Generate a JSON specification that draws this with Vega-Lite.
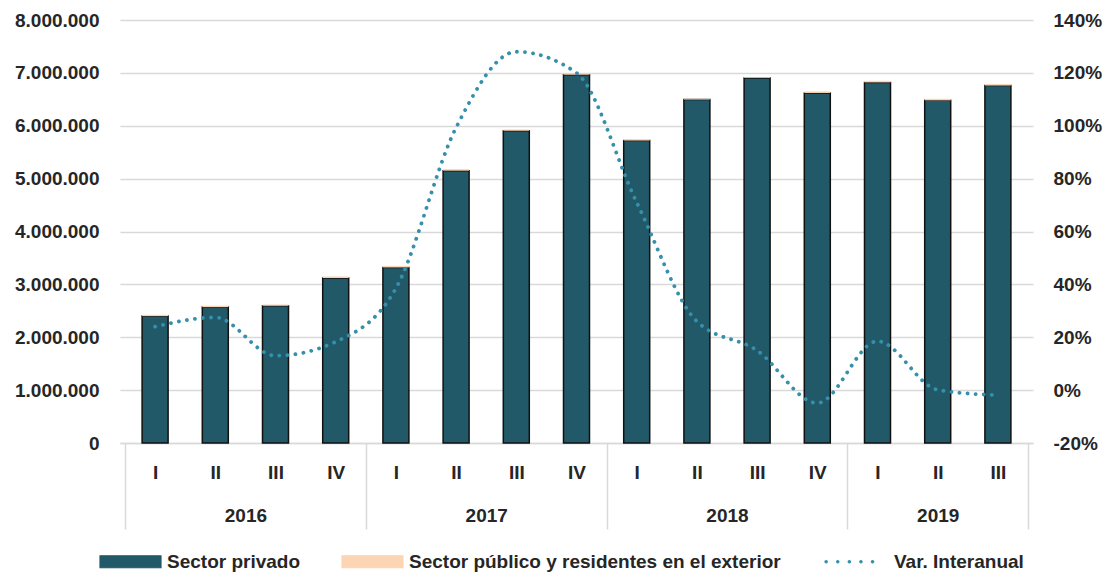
{
  "$schema": "https://vega.github.io/schema/vega-lite/v6.json",
  "width": 913,
  "height": 423,
  "autosize": {"type": "none"},
  "padding": {"left": 120, "top": 20, "right": 80, "bottom": 129},
  "background": "white",
  "config": {
    "locale": {"number": {"decimal": ",", "thousands": ".", "grouping": [3], "currency": ["", ""], "minus": "-"}},
    "view": {"stroke": null},
    "font": "Liberation Sans",
    "axis": {"labelFont": "Liberation Sans", "labelFontWeight": "bold", "labelFontSize": 19, "labelColor": "#262626", "title": null, "labelFlush": false, "labelOverlap": false},
    "legend": {"symbolSize": 3721}
  },
  "datasets": {
    "q": [
      {"idx": 0, "year": "2016", "quarter": "I", "Sector privado": 2400000, "Sector público y residentes en el exterior": 25000, "var": 24},
      {"idx": 1, "year": "2016", "quarter": "II", "Sector privado": 2570000, "Sector público y residentes en el exterior": 27000, "var": 27.5},
      {"idx": 2, "year": "2016", "quarter": "III", "Sector privado": 2595000, "Sector público y residentes en el exterior": 25000, "var": 13},
      {"idx": 3, "year": "2016", "quarter": "IV", "Sector privado": 3120000, "Sector público y residentes en el exterior": 30000, "var": 18.3},
      {"idx": 4, "year": "2017", "quarter": "I", "Sector privado": 3320000, "Sector público y residentes en el exterior": 30000, "var": 38.5},
      {"idx": 5, "year": "2017", "quarter": "II", "Sector privado": 5150000, "Sector público y residentes en el exterior": 30000, "var": 99.3},
      {"idx": 6, "year": "2017", "quarter": "III", "Sector privado": 5905000, "Sector público y residentes en el exterior": 25000, "var": 128},
      {"idx": 7, "year": "2017", "quarter": "IV", "Sector privado": 6965000, "Sector público y residentes en el exterior": 15000, "var": 120},
      {"idx": 8, "year": "2018", "quarter": "I", "Sector privado": 5720000, "Sector público y residentes en el exterior": 30000, "var": 71},
      {"idx": 9, "year": "2018", "quarter": "II", "Sector privado": 6495000, "Sector público y residentes en el exterior": 15000, "var": 26},
      {"idx": 10, "year": "2018", "quarter": "III", "Sector privado": 6905000, "Sector público y residentes en el exterior": 15000, "var": 15},
      {"idx": 11, "year": "2018", "quarter": "IV", "Sector privado": 6620000, "Sector público y residentes en el exterior": 30000, "var": -4.9},
      {"idx": 12, "year": "2019", "quarter": "I", "Sector privado": 6820000, "Sector público y residentes en el exterior": 30000, "var": 18.5},
      {"idx": 13, "year": "2019", "quarter": "II", "Sector privado": 6480000, "Sector público y residentes en el exterior": 30000, "var": 0.1},
      {"idx": 14, "year": "2019", "quarter": "III", "Sector privado": 6760000, "Sector público y residentes en el exterior": 30000, "var": -1.9}
    ]
  },
  "data": {"name": "q"},
  "layer": [
    {
      "transform": [{"fold": ["Sector privado", "Sector público y residentes en el exterior"], "as": ["series", "value"]}],
      "mark": {"type": "bar", "size": 26, "strokeWidth": 1.5},
      "encoding": {
        "x": {
          "field": "idx", "type": "quantitative",
          "scale": {"domain": [-0.5, 14.5], "nice": false, "zero": false},
          "axis": {"orient": "bottom", "values": [0,1,2,3,4,5,6,7,8,9,10,11,12,13,14], "labelExpr": "['I','II','III','IV'][datum.value % 4]", "ticks": false, "domain": true, "domainColor": "#d9d9d9", "domainWidth": 1.5, "grid": false, "labelPadding": 20}
        },
        "y": {
          "field": "value", "type": "quantitative", "stack": "zero",
          "scale": {"domain": [0, 8000000], "nice": false},
          "axis": {"orient": "left", "values": [0,1000000,2000000,3000000,4000000,5000000,6000000,7000000,8000000], "format": ",.0f", "grid": true, "gridColor": "#d9d9d9", "gridWidth": 1.5, "domain": false, "ticks": false, "labelPadding": 21}
        },
        "order": {"field": "series", "type": "nominal"},
        "color": {
          "field": "series", "type": "nominal",
          "scale": {"domain": ["Sector privado", "Sector público y residentes en el exterior", "Var. Interanual"], "range": ["#225968", "#FCD5B4", "#3590AA"]},
          "legend": {
            "title": null, "orient": "none", "legendX": -21, "legendY": 510, "direction": "horizontal",
            "symbolSize": 3721, "labelFontSize": 19, "labelFontWeight": "bold", "labelFont": "Liberation Sans", "labelColor": "#262626",
            "labelOffset": 5, "columnPadding": 38, "labelLimit": 500,
            "encode": {
              "symbols": {
                "update": {
                  "size": {"value": 3721},
                  "shape": {"signal": "datum.value === 'Var. Interanual' ? 'M-1.03,0H0.87' : 'M-1,-0.197H1V0.197H-1Z'"},
                  "fill": {"signal": "datum.value === 'Sector privado' ? '#225968' : datum.value === 'Var. Interanual' ? 'transparent' : '#FCD5B4'"},
                  "stroke": {"signal": "datum.value === 'Sector privado' ? '#111111' : datum.value === 'Var. Interanual' ? '#3590AA' : 'transparent'"},
                  "strokeWidth": {"signal": "(datum.value === 'Var. Interanual' ? 3.5 : 1.2)"},
                  "strokeDash": {"signal": "datum.value === 'Var. Interanual' ? [0.1, 11.5] : [1, 0]"},
                  "strokeCap": {"value": "round"},
                  "opacity": {"value": 1}
                }
              }
            }
          }
        },
        "stroke": {"condition": {"test": "datum.series === 'Sector privado'", "value": "#111111"}, "value": "transparent"}
      }
    },
    {
      "mark": {"type": "line", "interpolate": "monotone", "strokeDash": [0.1, 8], "strokeCap": "round", "strokeWidth": 3.8},
      "encoding": {
        "x": {
          "field": "idx", "type": "quantitative",
          "axis": {"orient": "bottom", "values": [1.5, 5.5, 9.5, 13], "labelExpr": "datum.value < 3 ? '2016' : datum.value < 7 ? '2017' : datum.value < 11 ? '2018' : '2019'", "ticks": false, "domain": false, "grid": false, "labelPadding": 63}
        },
        "y": {
          "field": "var", "type": "quantitative",
          "scale": {"domain": [-20, 140], "nice": false, "zero": false},
          "axis": {"orient": "right", "values": [-20,0,20,40,60,80,100,120,140], "labelExpr": "datum.value + '%'", "grid": false, "domain": false, "ticks": false, "labelPadding": 20}
        },
        "color": {
          "datum": "Var. Interanual", "type": "nominal",
          "legend": {
            "title": null, "orient": "none", "legendX": -21, "legendY": 510, "direction": "horizontal",
            "symbolSize": 3721, "labelFontSize": 19, "labelFontWeight": "bold", "labelFont": "Liberation Sans", "labelColor": "#262626",
            "labelOffset": 5, "columnPadding": 38, "labelLimit": 500,
            "encode": {
              "symbols": {
                "update": {
                  "size": {"value": 3721},
                  "shape": {"signal": "datum.value === 'Var. Interanual' ? 'M-1.03,0H0.87' : 'M-1,-0.197H1V0.197H-1Z'"},
                  "fill": {"signal": "datum.value === 'Sector privado' ? '#225968' : datum.value === 'Var. Interanual' ? 'transparent' : '#FCD5B4'"},
                  "stroke": {"signal": "datum.value === 'Sector privado' ? '#111111' : datum.value === 'Var. Interanual' ? '#3590AA' : 'transparent'"},
                  "strokeWidth": {"signal": "(datum.value === 'Var. Interanual' ? 3.5 : 1.2)"},
                  "strokeDash": {"signal": "datum.value === 'Var. Interanual' ? [0.1, 11.5] : [1, 0]"},
                  "strokeCap": {"value": "round"},
                  "opacity": {"value": 1}
                }
              }
            }
          }
        }
      }
    },
    {
      "mark": {"type": "point", "opacity": 0},
      "encoding": {
        "x": {
          "field": "idx", "type": "quantitative",
          "axis": {"orient": "bottom", "values": [-0.5, 3.5, 7.5, 11.5, 14.5], "labels": false, "ticks": true, "tickSize": 86, "tickColor": "#d9d9d9", "tickWidth": 1.5, "domain": false, "grid": false}
        }
      }
    }
  ],
  "resolve": {"scale": {"y": "independent"}, "axis": {"x": "independent"}}
}
